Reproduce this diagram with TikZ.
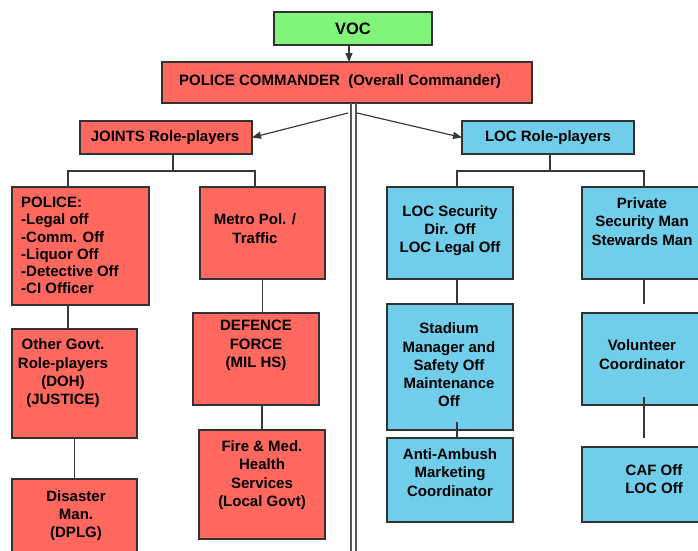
\documentclass[tikz,border=0pt]{standalone}
\usepackage{fontspec}
\setmainfont{Liberation Sans}
\usetikzlibrary{arrows.meta,calc}
\definecolor{boxred}{RGB}{255,104,94}
\definecolor{boxblue}{RGB}{112,206,235}
\definecolor{boxgreen}{RGB}{128,245,122}
\definecolor{edgecol}{RGB}{50,50,50}
\definecolor{wirecol}{RGB}{55,55,55}
\definecolor{railcol}{RGB}{85,85,85}
\newcommand{\mkbox}[6]{\node[#1,minimum width={(#5-#3)*1pt},minimum height={(#6-#4)*1pt}] (#2) at (#3,#4) {};}
\begin{document}
\begin{tikzpicture}[x=1pt,y=-1pt,
  box/.style={draw=edgecol,line width=1.1pt,anchor=north west,inner sep=0pt,outer sep=0pt},
  rbox/.style={box,fill=boxred},
  bbox/.style={box,fill=boxblue},
  gbox/.style={box,fill=boxgreen},
  lbl/.style={font=\fontsize{15}{18.3}\selectfont\bfseries,align=center,inner sep=0pt,anchor=center,text=black},
  wire/.style={draw=wirecol,line width=1.15pt},
  rail/.style={draw=railcol,line width=1.1pt},
  arr/.style={wire,-{Triangle[length=9pt,width=7pt]}}]
\useasboundingbox (0,0) rectangle (698,550);
% boxes
\mkbox{gbox}{voc}{274}{12}{432}{45}
\mkbox{rbox}{cmd}{162}{62}{532}{103}
\mkbox{rbox}{joints}{80}{121}{252}{154}
\mkbox{bbox}{loc}{462}{121}{634}{154}
\mkbox{rbox}{police}{12}{187}{149}{305}
\mkbox{rbox}{metro}{200}{187}{325}{279}
\mkbox{rbox}{defence}{193}{313}{319}{405}
\mkbox{rbox}{fire}{199}{430}{325}{539}
\mkbox{rbox}{other}{12}{329}{137}{438}
\mkbox{rbox}{disaster}{12}{479}{137}{570}
\mkbox{bbox}{locsec}{387}{187}{513}{279}
\mkbox{bbox}{private}{582}{187}{710}{279}
\mkbox{bbox}{stadium}{387}{304}{513}{430}
\mkbox{bbox}{anti}{387}{438}{513}{522}
\mkbox{bbox}{volunteer}{582}{313}{710}{405}
\mkbox{bbox}{caf}{582}{447}{710}{522}
% labels
\node[lbl,font=\fontsize{16.5}{19}\selectfont\bfseries] (tvoc) at (353,28.5) {VOC};
\node[lbl] (tcmd) at (340,82) {POLICE COMMANDER\ \ (Overall Commander)};
\node[lbl] (tjoints) at (165,137.5) {JOINTS Role-players};
\node[lbl] (tloc) at (548,137.5) {LOC Role-players};
\node[lbl,align=left,anchor=west,font=\fontsize{15}{17.3}\selectfont\bfseries] (tpolice) at (21,245.5) {POLICE:\\-Legal off\\-Comm. Off\\-Liquor Off\\-Detective Off\\-CI Officer};
\node[lbl] (tmetro) at (255,228.5) {Metro Pol. /\\Traffic};
\node[lbl] (tdefence) at (256,345.5) {DEFENCE\\FORCE\\(MIL HS)};
\node[lbl] (tother) at (63,373.5) {Other Govt.\\Role-players\\(DOH)\\(JUSTICE)};
\node[lbl] (tdisaster) at (76,515.5) {Disaster\\Man.\\(DPLG)};
\node[lbl] (tfire) at (262,475) {Fire \& Med.\\Health\\Services\\(Local Govt)};
\node[lbl] (tlocsec) at (450,230.5) {LOC Security\\Dir. Off\\LOC Legal Off};
\node[lbl] (tprivate) at (642,221.5) {Private\\Security Man\\Stewards Man};
\node[lbl] (tstadium) at (449,365) {Stadium\\Manager and\\Safety Off\\Maintenance\\Off};
\node[lbl] (tanti) at (450,472.5) {Anti-Ambush\\Marketing\\Coordinator};
\node[lbl] (tvolunteer) at (642,354.5) {Volunteer\\Coordinator};
\node[lbl] (tcaf) at (654,479) {CAF Off\\LOC Off};
% central double rail
\draw[rail] ([xshift=4pt]cmd.south) -- ++(0,460);
\draw[rail] ([xshift=9pt]cmd.south) -- ++(0,460);
% arrows
\draw[arr] ([xshift=-4pt]voc.south) -- ([xshift=-4pt]voc.south |- cmd.north);
\coordinate (sl) at (348,113);
\coordinate (sr) at (357,113);
\draw[arr] (sl) -- (joints.east);
\draw[arr] (sr) -- (loc.west);
% joints tree
\coordinate (jbus) at (173,171);
\draw[wire] ([xshift=7pt]joints.south) -- ([xshift=7pt]joints.south |- jbus);
\draw[wire] ([xshift=-12.5pt]police.north) |- (jbus) -| ([xshift=-7.5pt]metro.north);
\draw[wire] ([xshift=-12.5pt]police.south) -- ([xshift=-12.5pt]police.south |- other.north);
\draw[wire] (other.south) -- (disaster.north);
\draw[wire] (metro.south) -- (metro.south |- defence.north);
\draw[wire] (fire.north |- defence.south) -- (fire.north);
% loc tree
\coordinate (lbus) at (550,171);
\draw[wire] ([xshift=2pt]loc.south) -- ([xshift=2pt]loc.south |- lbus);
\draw[wire] ([xshift=7pt]locsec.north) |- (lbus) -| ([xshift=-2pt]private.north);
\draw[wire] ([xshift=7pt]locsec.south) -- ([xshift=7pt]locsec.south |- stadium.north);
\draw[wire] ([xshift=7pt,yshift=8pt]stadium.south) -- ([xshift=7pt]anti.north);
\coordinate (pend) at (644,304);
\draw[wire] ([xshift=-2pt]private.south) -- (pend);
\coordinate (vend) at (644,438);
\draw[wire] ([xshift=-2pt,yshift=8pt]volunteer.south) -- (vend);
\end{tikzpicture}
\end{document}
